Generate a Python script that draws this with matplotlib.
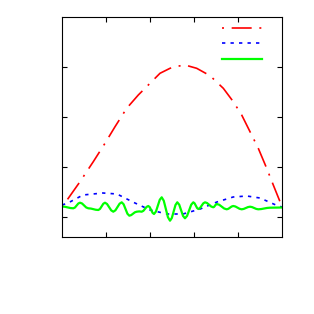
import matplotlib
matplotlib.use("Agg")
import matplotlib.pyplot as plt

# Red dash-dot curve
red_x = [0.0, 0.143, 0.409, 0.711, 0.977, 1.205, 1.470, 1.734, 2.0, 2.227, 2.455, 2.568, 2.795,
         3.061, 3.364, 3.666, 3.893, 4.084, 4.273, 4.461, 4.652, 4.802, 4.955, 5.0]
red_y = [0.195, 0.374, 0.706, 1.106, 1.474, 1.806, 2.174, 2.44, 2.674, 2.874, 2.974, 3.006, 3.04,
         2.974, 2.826, 2.574, 2.306, 2.04, 1.706, 1.374, 0.974, 0.64, 0.306, 0.21]

# Blue dotted curve
blue_x = [0.0, 0.136, 0.477, 0.93, 1.25, 1.61, 2.0, 2.39, 2.75, 3.14, 3.52, 3.89, 4.2, 4.5, 4.86, 5.0]
blue_y = [0.24, 0.28, 0.44, 0.48, 0.46, 0.30, 0.14, 0.06, 0.06, 0.16, 0.30, 0.40, 0.42, 0.38, 0.24, 0.20]

# Green solid oscillating curve
green_x = [0.0, 0.064, 0.193, 0.257, 0.295, 0.371, 0.409, 0.456, 0.551, 0.598, 0.655, 0.768,
           0.825, 0.863, 0.939, 0.977, 1.024, 1.119, 1.166, 1.214, 1.309, 1.357, 1.400, 1.487,
           1.530, 1.572, 1.656, 1.698, 1.755, 1.811, 1.849, 1.924, 1.961, 1.994, 2.059, 2.091,
           2.135, 2.222, 2.266, 2.313, 2.408, 2.455, 2.496, 2.579, 2.620, 2.664, 2.751, 2.795,
           2.842, 2.937, 2.984, 3.013, 3.070, 3.098, 3.136, 3.212, 3.250, 3.297, 3.392, 3.439,
           3.458, 3.497, 3.516, 3.573, 3.686, 3.743, 3.781, 3.856, 3.893, 3.941, 4.036, 4.084,
           4.131, 4.226, 4.273, 4.320, 4.414, 4.461, 4.528, 4.661, 4.727, 4.795, 4.932, 5.0]
green_y = [0.21, 0.205, 0.179, 0.174, 0.19, 0.27, 0.286, 0.27, 0.19, 0.174, 0.169, 0.145,
           0.14, 0.161, 0.265, 0.286, 0.26, 0.132, 0.106, 0.134, 0.266, 0.294, 0.255, 0.065,
           0.026, 0.038, 0.094, 0.106, 0.112, 0.106, 0.123, 0.203, 0.22, 0.197, 0.083, 0.06,
           0.109, 0.345, 0.394, 0.325, -0.005, -0.074, -0.02, 0.24, 0.294, 0.247, 0.021, -0.026,
           0.021, 0.247, 0.294, 0.274, 0.18, 0.16, 0.18, 0.274, 0.294, 0.279, 0.209, 0.194,
           0.204, 0.25, 0.26, 0.245, 0.17, 0.154, 0.164, 0.21, 0.22, 0.21, 0.164, 0.154,
           0.162, 0.198, 0.206, 0.198, 0.162, 0.154, 0.159, 0.181, 0.186, 0.187, 0.189, 0.19]

x_ticks = [1, 2, 3, 4]
y_ticks = [0, 1, 2, 3]

fig = plt.figure(figsize=(3.14, 3.14), dpi=100)
ax = fig.add_axes([62/314, 77/314, 220/314, 220/314])

l_red, = ax.plot(red_x, red_y, color="#ff0000", lw=1.2)
l_red.set_dashes([1.2, 4.6, 12, 4.6])
l_blue, = ax.plot(blue_x, blue_y, color="#0000ff", lw=1.2)
l_blue.set_dashes([2, 3.1])
l_green, = ax.plot(green_x, green_y, color="#00ff00", lw=1.6)

ax.set_xlim(0, 5)
ax.set_ylim(-0.4, 4)
ax.set_xticks(x_ticks)
ax.set_yticks(y_ticks)
ax.tick_params(direction="in", length=3.6, width=0.8, top=True, right=True,
               labelbottom=False, labelleft=False)
for s in ax.spines.values():
    s.set_linewidth(0.8)

ax.legend([l_red, l_blue, l_green], ["", "", ""], loc="upper right", frameon=False,
          handlelength=3.6, handletextpad=1.2, fontsize=8, labelspacing=0.5,
          borderaxespad=0.2)

fig.savefig("out.png", dpi=100)
